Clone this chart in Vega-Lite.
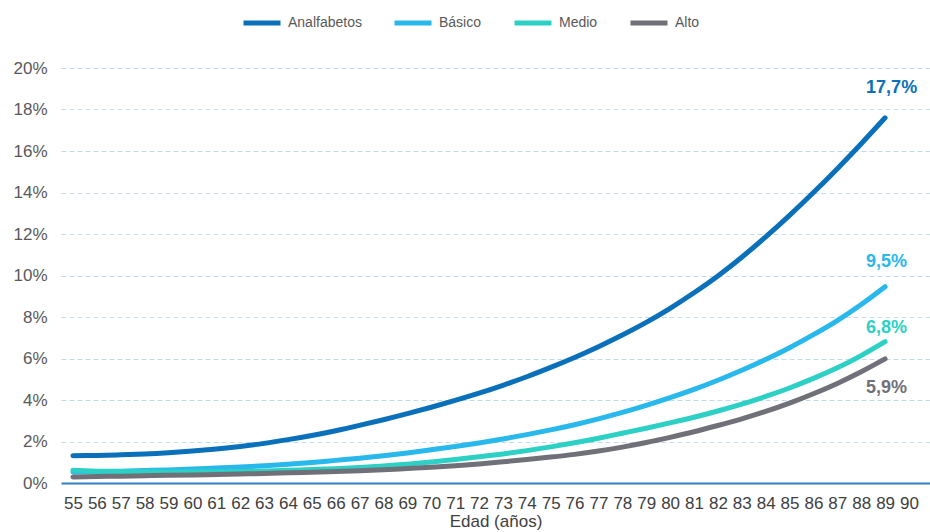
{
  "$schema": "https://vega.github.io/schema/vega-lite/v6.json",
  "width": 869,
  "height": 415,
  "autosize": "none",
  "padding": {"left": 61, "top": 68, "right": 0, "bottom": 49},
  "config": {"font": "Liberation Sans", "view": {"stroke": null}},
  "datasets": {
    "series": [
      {"edad":55,"nivel":"Analfabetos","tasa":1.31},{"edad":56,"nivel":"Analfabetos","tasa":1.33},{"edad":57,"nivel":"Analfabetos","tasa":1.36},{"edad":58,"nivel":"Analfabetos","tasa":1.40},{"edad":59,"nivel":"Analfabetos","tasa":1.46},{"edad":60,"nivel":"Analfabetos","tasa":1.54},{"edad":61,"nivel":"Analfabetos","tasa":1.64},{"edad":62,"nivel":"Analfabetos","tasa":1.76},{"edad":63,"nivel":"Analfabetos","tasa":1.91},{"edad":64,"nivel":"Analfabetos","tasa":2.09},{"edad":65,"nivel":"Analfabetos","tasa":2.29},{"edad":66,"nivel":"Analfabetos","tasa":2.52},{"edad":67,"nivel":"Analfabetos","tasa":2.78},{"edad":68,"nivel":"Analfabetos","tasa":3.05},{"edad":69,"nivel":"Analfabetos","tasa":3.34},{"edad":70,"nivel":"Analfabetos","tasa":3.65},{"edad":71,"nivel":"Analfabetos","tasa":3.98},{"edad":72,"nivel":"Analfabetos","tasa":4.33},{"edad":73,"nivel":"Analfabetos","tasa":4.71},{"edad":74,"nivel":"Analfabetos","tasa":5.12},{"edad":75,"nivel":"Analfabetos","tasa":5.57},{"edad":76,"nivel":"Analfabetos","tasa":6.05},{"edad":77,"nivel":"Analfabetos","tasa":6.57},{"edad":78,"nivel":"Analfabetos","tasa":7.13},{"edad":79,"nivel":"Analfabetos","tasa":7.74},{"edad":80,"nivel":"Analfabetos","tasa":8.42},{"edad":81,"nivel":"Analfabetos","tasa":9.17},{"edad":82,"nivel":"Analfabetos","tasa":9.98},{"edad":83,"nivel":"Analfabetos","tasa":10.88},{"edad":84,"nivel":"Analfabetos","tasa":11.86},{"edad":85,"nivel":"Analfabetos","tasa":12.9},{"edad":86,"nivel":"Analfabetos","tasa":14.0},{"edad":87,"nivel":"Analfabetos","tasa":15.15},{"edad":88,"nivel":"Analfabetos","tasa":16.35},{"edad":89,"nivel":"Analfabetos","tasa":17.6},
      {"edad":55,"nivel":"Básico","tasa":0.53},{"edad":56,"nivel":"Básico","tasa":0.55},{"edad":57,"nivel":"Básico","tasa":0.57},{"edad":58,"nivel":"Básico","tasa":0.6},{"edad":59,"nivel":"Básico","tasa":0.63},{"edad":60,"nivel":"Básico","tasa":0.67},{"edad":61,"nivel":"Básico","tasa":0.72},{"edad":62,"nivel":"Básico","tasa":0.77},{"edad":63,"nivel":"Básico","tasa":0.83},{"edad":64,"nivel":"Básico","tasa":0.9},{"edad":65,"nivel":"Básico","tasa":0.99},{"edad":66,"nivel":"Básico","tasa":1.09},{"edad":67,"nivel":"Básico","tasa":1.19},{"edad":68,"nivel":"Básico","tasa":1.31},{"edad":69,"nivel":"Básico","tasa":1.45},{"edad":70,"nivel":"Básico","tasa":1.6},{"edad":71,"nivel":"Básico","tasa":1.76},{"edad":72,"nivel":"Básico","tasa":1.93},{"edad":73,"nivel":"Básico","tasa":2.12},{"edad":74,"nivel":"Básico","tasa":2.33},{"edad":75,"nivel":"Básico","tasa":2.56},{"edad":76,"nivel":"Básico","tasa":2.81},{"edad":77,"nivel":"Básico","tasa":3.09},{"edad":78,"nivel":"Básico","tasa":3.4},{"edad":79,"nivel":"Básico","tasa":3.74},{"edad":80,"nivel":"Básico","tasa":4.11},{"edad":81,"nivel":"Básico","tasa":4.51},{"edad":82,"nivel":"Básico","tasa":4.95},{"edad":83,"nivel":"Básico","tasa":5.43},{"edad":84,"nivel":"Básico","tasa":5.95},{"edad":85,"nivel":"Básico","tasa":6.52},{"edad":86,"nivel":"Básico","tasa":7.15},{"edad":87,"nivel":"Básico","tasa":7.83},{"edad":88,"nivel":"Básico","tasa":8.6},{"edad":89,"nivel":"Básico","tasa":9.46},
      {"edad":55,"nivel":"Medio","tasa":0.61},{"edad":56,"nivel":"Medio","tasa":0.57},{"edad":57,"nivel":"Medio","tasa":0.55},{"edad":58,"nivel":"Medio","tasa":0.54},{"edad":59,"nivel":"Medio","tasa":0.535},{"edad":60,"nivel":"Medio","tasa":0.54},{"edad":61,"nivel":"Medio","tasa":0.545},{"edad":62,"nivel":"Medio","tasa":0.56},{"edad":63,"nivel":"Medio","tasa":0.58},{"edad":64,"nivel":"Medio","tasa":0.61},{"edad":65,"nivel":"Medio","tasa":0.65},{"edad":66,"nivel":"Medio","tasa":0.69},{"edad":67,"nivel":"Medio","tasa":0.75},{"edad":68,"nivel":"Medio","tasa":0.82},{"edad":69,"nivel":"Medio","tasa":0.91},{"edad":70,"nivel":"Medio","tasa":1.01},{"edad":71,"nivel":"Medio","tasa":1.13},{"edad":72,"nivel":"Medio","tasa":1.26},{"edad":73,"nivel":"Medio","tasa":1.4},{"edad":74,"nivel":"Medio","tasa":1.56},{"edad":75,"nivel":"Medio","tasa":1.74},{"edad":76,"nivel":"Medio","tasa":1.94},{"edad":77,"nivel":"Medio","tasa":2.16},{"edad":78,"nivel":"Medio","tasa":2.4},{"edad":79,"nivel":"Medio","tasa":2.64},{"edad":80,"nivel":"Medio","tasa":2.9},{"edad":81,"nivel":"Medio","tasa":3.17},{"edad":82,"nivel":"Medio","tasa":3.47},{"edad":83,"nivel":"Medio","tasa":3.8},{"edad":84,"nivel":"Medio","tasa":4.17},{"edad":85,"nivel":"Medio","tasa":4.58},{"edad":86,"nivel":"Medio","tasa":5.04},{"edad":87,"nivel":"Medio","tasa":5.55},{"edad":88,"nivel":"Medio","tasa":6.14},{"edad":89,"nivel":"Medio","tasa":6.81},
      {"edad":55,"nivel":"Alto","tasa":0.29},{"edad":56,"nivel":"Alto","tasa":0.31},{"edad":57,"nivel":"Alto","tasa":0.33},{"edad":58,"nivel":"Alto","tasa":0.35},{"edad":59,"nivel":"Alto","tasa":0.37},{"edad":60,"nivel":"Alto","tasa":0.39},{"edad":61,"nivel":"Alto","tasa":0.41},{"edad":62,"nivel":"Alto","tasa":0.435},{"edad":63,"nivel":"Alto","tasa":0.46},{"edad":64,"nivel":"Alto","tasa":0.49},{"edad":65,"nivel":"Alto","tasa":0.52},{"edad":66,"nivel":"Alto","tasa":0.555},{"edad":67,"nivel":"Alto","tasa":0.595},{"edad":68,"nivel":"Alto","tasa":0.64},{"edad":69,"nivel":"Alto","tasa":0.7},{"edad":70,"nivel":"Alto","tasa":0.76},{"edad":71,"nivel":"Alto","tasa":0.83},{"edad":72,"nivel":"Alto","tasa":0.92},{"edad":73,"nivel":"Alto","tasa":1.02},{"edad":74,"nivel":"Alto","tasa":1.13},{"edad":75,"nivel":"Alto","tasa":1.25},{"edad":76,"nivel":"Alto","tasa":1.38},{"edad":77,"nivel":"Alto","tasa":1.54},{"edad":78,"nivel":"Alto","tasa":1.73},{"edad":79,"nivel":"Alto","tasa":1.95},{"edad":80,"nivel":"Alto","tasa":2.2},{"edad":81,"nivel":"Alto","tasa":2.47},{"edad":82,"nivel":"Alto","tasa":2.77},{"edad":83,"nivel":"Alto","tasa":3.09},{"edad":84,"nivel":"Alto","tasa":3.45},{"edad":85,"nivel":"Alto","tasa":3.85},{"edad":86,"nivel":"Alto","tasa":4.3},{"edad":87,"nivel":"Alto","tasa":4.8},{"edad":88,"nivel":"Alto","tasa":5.36},{"edad":89,"nivel":"Alto","tasa":5.98}
    ],
    "etiquetas": [
      {"edad":89,"nivel":"Analfabetos","tasa":17.7,"texto":"17,7%"},
      {"edad":89,"nivel":"Básico","tasa":9.5,"texto":"9,5%"},
      {"edad":89,"nivel":"Medio","tasa":6.8,"texto":"6,8%"},
      {"edad":89,"nivel":"Alto","tasa":5.9,"texto":"5,9%"}
    ]
  },
  "encoding": {
    "x": {
      "field": "edad", "type": "quantitative",
      "scale": {"domain": [54.5, 90.88], "nice": false, "zero": false},
      "axis": {
        "values": [55,56,57,58,59,60,61,62,63,64,65,66,67,68,69,70,71,72,73,74,75,76,77,78,79,80,81,82,83,84,85,86,87,88,89,90],
        "format": "d", "title": "Edad (años)",
        "labelFontSize": 17, "labelColor": "#404040", "labelPadding": 12,
        "ticks": false, "tickSize": 0, "labelOverlap": false, "labelFlush": false,
        "domainColor": "#2F7EC6", "domainWidth": 2, "grid": false,
        "titleFontSize": 17, "titleFontWeight": "normal", "titleColor": "#404040", "titlePadding": 2,
        "zindex": 1
      }
    },
    "y": {
      "field": "tasa", "type": "quantitative",
      "scale": {"domain": [0, 20], "nice": false},
      "axis": {
        "values": [0,2,4,6,8,10,12,14,16,18,20],
        "labelExpr": "datum.value + '%'", "title": null,
        "domain": false, "ticks": false, "tickSize": 0, "labelPadding": 14,
        "labelFontSize": 17, "labelColor": "#595959",
        "grid": true, "gridColor": "#C3DBF0", "gridDash": [5, 3], "gridWidth": 1
      }
    }
  },
  "layer": [
    {
      "data": {"name": "series"},
      "mark": {"type": "line", "strokeWidth": 5, "strokeCap": "round", "strokeJoin": "round", "interpolate": "natural"},
      "encoding": {
        "color": {
          "field": "nivel", "type": "nominal",
          "scale": {"domain": ["Analfabetos", "Básico", "Medio", "Alto"], "range": ["#0A70BA", "#29B8EC", "#2DD0C4", "#707078"]},
          "legend": {
            "orient": "none", "legendX": 180, "legendY": -66, "direction": "horizontal",
            "title": null, "symbolType": "stroke", "symbolSize": 1369, "symbolStrokeWidth": 5,
            "labelFontSize": 14, "labelColor": "#595959", "columnPadding": 22, "labelOffset": 5
          }
        }
      }
    },
    {
      "data": {"name": "etiquetas"},
      "transform": [{"filter": "datum.nivel === 'Analfabetos'"}],
      "mark": {"type": "text", "align": "left", "baseline": "middle", "dx": -19, "dy": -28, "fontSize": 18, "fontWeight": "bold", "color": "#0A70BA"},
      "encoding": {"text": {"field": "texto"}}
    },
    {
      "data": {"name": "etiquetas"},
      "transform": [{"filter": "datum.nivel === 'Básico'"}],
      "mark": {"type": "text", "align": "left", "baseline": "middle", "dx": -19, "dy": -24, "fontSize": 18, "fontWeight": "bold", "color": "#29B8EC"},
      "encoding": {"text": {"field": "texto"}}
    },
    {
      "data": {"name": "etiquetas"},
      "transform": [{"filter": "datum.nivel === 'Medio'"}],
      "mark": {"type": "text", "align": "left", "baseline": "middle", "dx": -19, "dy": -14, "fontSize": 18, "fontWeight": "bold", "color": "#2DD0C4"},
      "encoding": {"text": {"field": "texto"}}
    },
    {
      "data": {"name": "etiquetas"},
      "transform": [{"filter": "datum.nivel === 'Alto'"}],
      "mark": {"type": "text", "align": "left", "baseline": "middle", "dx": -19, "dy": 27, "fontSize": 18, "fontWeight": "bold", "color": "#707078"},
      "encoding": {"text": {"field": "texto"}}
    }
  ]
}
